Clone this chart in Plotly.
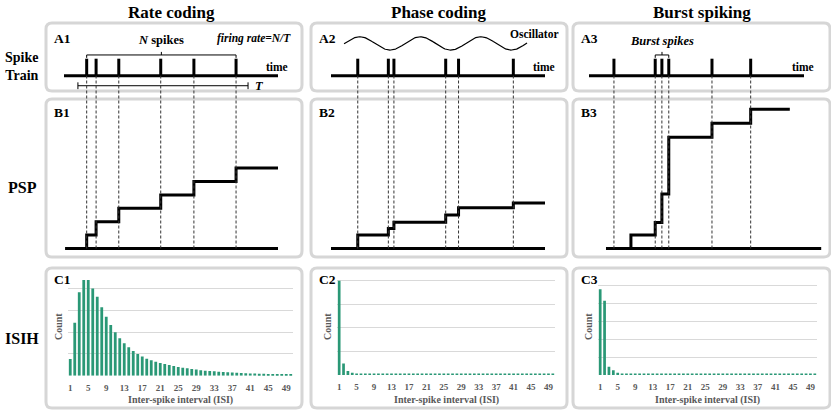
import numpy as np
import plotly.graph_objects as go

W, H = 831, 410

# ---------------- data ----------------
column_titles = ['Rate coding', 'Phase coding', 'Burst spiking']
row_titles = ['Spike<br>Train', 'PSP', 'ISIH']

# spike times, time axis 0-100 along each spike train
spikes_rate = [10.6, 15.0, 25.6, 45.2, 60.7, 80.4]
spikes_phase = [12.5, 26.8, 29.4, 53.6, 59.6, 85.2]
spikes_burst = [11.6, 30.8, 33.9, 37.1, 57.2, 75.2]

# PSP: onset of each step and level reached after it
psp_rate_t = [10.6, 15.0, 25.6, 45.2, 60.7, 80.4]
psp_rate_v = [1.0, 2.0, 3.0, 4.0, 5.0, 6.0]
psp_phase_t = [12.5, 26.8, 29.4, 53.6, 59.6, 85.2]
psp_phase_v = [1.0, 1.5, 1.95, 2.5, 3.05, 3.4]
psp_burst_t = [19.5, 30.8, 33.9, 37.1, 57.2, 75.2]
psp_burst_v = [1.0, 1.94, 4.06, 8.3, 9.35, 10.4]
psp_end = [100, 100, 93.4]
train_span = [(0, 100), (0, 100), (0, 100)]
psp_span = [(0.5, 100), (0, 100), (7.9, 108)]

# observation window T (rate coding)
T_window = (6.5, 86.0)

# oscillator (phase coding)
osc_span = (6.1, 91.6)
osc_period = 28.3
osc_peak = 13.45

# inter-spike interval histograms
isi = list(range(1, 51))
isi_ticks = list(range(1, 50, 4))
isih_rate = [0.77, 2.44, 3.84, 4.41, 4.41, 4.02, 3.64, 3.15, 2.72, 2.33,
             2.0, 1.72, 1.49, 1.31, 1.14, 1.0, 0.88, 0.78, 0.71, 0.645,
             0.58, 0.54, 0.49, 0.45, 0.40, 0.37, 0.34, 0.31, 0.28, 0.25,
             0.23, 0.215, 0.20, 0.185, 0.17, 0.155, 0.145, 0.14, 0.125, 0.115,
             0.105, 0.10, 0.09, 0.085, 0.077, 0.07, 0.065, 0.06, 0.055, 0.05]
isih_phase = [4.0, 0.49, 0.17, 0.10, 0.06, 0.045, 0.035, 0.03, 0.03, 0.03,
              0.03, 0.03, 0.03, 0.03, 0.03, 0.03, 0.03, 0.03, 0.03, 0.03,
              0.03, 0.03, 0.03, 0.03, 0.03, 0.03, 0.03, 0.03, 0.03, 0.03,
              0.03, 0.03, 0.03, 0.03, 0.03, 0.03, 0.03, 0.03, 0.03, 0.03,
              0.03, 0.03, 0.03, 0.03, 0.03, 0.03, 0.03, 0.03, 0.03, 0.03]
isih_burst = [4.81, 4.17, 0.47, 0.26, 0.13, 0.075, 0.056, 0.04, 0.04, 0.04,
              0.04, 0.04, 0.04, 0.04, 0.04, 0.04, 0.04, 0.04, 0.04, 0.04,
              0.04, 0.04, 0.04, 0.04, 0.04, 0.04, 0.04, 0.04, 0.04, 0.04,
              0.04, 0.04, 0.04, 0.04, 0.04, 0.04, 0.04, 0.04, 0.04, 0.04,
              0.04, 0.04, 0.04, 0.04, 0.04, 0.04, 0.04, 0.04, 0.04, 0.04]

# ---------------- layout helpers (pixel geometry) ----------------
FONT = 'Liberation Serif'
BOX_X = [(46, 302), (311, 567), (573, 830)]
BOX_Y = [(23, 91), (99, 257), (268, 408)]
BASE_X = [(64, 278), (331, 545), (589, 804)]   # px of t=0 and t=100
A_BASE, A_UNIT = 75.7, 17.0                    # spike baseline px, px per spike height
B_BASE, B_UNIT = 248.5, 13.4                   # PSP baseline px, px per unit


def X(p):
    return p / W


def Y(p):
    return 1 - p / H


def t_of(c, p):
    b0, b1 = BASE_X[c]
    return (p - b0) / (b1 - b0) * 100


def box_path(x0, y0, x1, y1, r=6):
    return (f"M{X(x0 + r)},{Y(y0)} L{X(x1 - r)},{Y(y0)} Q{X(x1)},{Y(y0)} {X(x1)},{Y(y0 + r)} "
            f"L{X(x1)},{Y(y1 - r)} Q{X(x1)},{Y(y1)} {X(x1 - r)},{Y(y1)} "
            f"L{X(x0 + r)},{Y(y1)} Q{X(x0)},{Y(y1)} {X(x0)},{Y(y1 - r)} "
            f"L{X(x0)},{Y(y0 + r)} Q{X(x0)},{Y(y0)} {X(x0 + r)},{Y(y0)} Z")


def note(s, size, x, y, xref='paper', yref='paper', color='black', **kw):
    d = dict(text=s, x=x, y=y, xref=xref, yref=yref, showarrow=False,
             xanchor='center', yanchor='middle',
             font=dict(family=FONT, size=size, color=color))
    d.update(kw)
    return d


fig = go.Figure()
shapes, annotations = [], []
layout = {}

# panel boxes
for bx in BOX_X:
    for by in BOX_Y:
        shapes.append(dict(type='path', path=box_path(bx[0], by[0], bx[1], by[1]),
                           xref='paper', yref='paper', layer='below',
                           line=dict(color='#d6d6d6', width=3), fillcolor='white'))

spikes_all = [spikes_rate, spikes_phase, spikes_burst]
psp_t_all = [psp_rate_t, psp_phase_t, psp_burst_t]
psp_v_all = [psp_rate_v, psp_phase_v, psp_burst_v]
BLK = dict(color='black', width=3)

for c in range(3):
    xa, ya, yb = f'x{c + 1}', f'y{c + 1}', f'y{c + 4}'
    bx0, bx1 = BOX_X[c]
    layout[f'xaxis{c + 1}'] = dict(domain=[X(bx0 + 2), X(bx1 - 2)],
                                   range=[t_of(c, bx0 + 2), t_of(c, bx1 - 2)],
                                   visible=False, anchor=ya)
    layout[f'yaxis{c + 1}'] = dict(domain=[Y(90), Y(24)],
                                   range=[(A_BASE - 90) / A_UNIT, (A_BASE - 24) / A_UNIT],
                                   visible=False, anchor=xa)
    layout[f'yaxis{c + 4}'] = dict(domain=[Y(256), Y(100)],
                                   range=[(B_BASE - 256) / B_UNIT, (B_BASE - 100) / B_UNIT],
                                   visible=False, anchor=xa)

    sp = spikes_all[c]
    # spike train
    fig.add_trace(go.Scatter(x=list(train_span[c]), y=[0, 0], mode='lines', line=BLK,
                             xaxis=xa, yaxis=ya, hoverinfo='skip'))
    sx, sy = [], []
    for t in sp:
        sx += [t, t, None]
        sy += [0, 1, None]
    fig.add_trace(go.Scatter(x=sx, y=sy, mode='lines', line=BLK, xaxis=xa, yaxis=ya,
                             hoverinfo='skip'))
    annotations.append(note('<b>time</b>', 11.5, 99.5, 0.52, xa, ya))

    # PSP
    fig.add_trace(go.Scatter(x=list(psp_span[c]), y=[0, 0], mode='lines', line=BLK,
                             xaxis=xa, yaxis=yb, hoverinfo='skip'))
    pt, pv = psp_t_all[c], psp_v_all[c]
    px_, py_ = [pt[0]], [0]
    for i, t in enumerate(pt):
        nxt = pt[i + 1] if i + 1 < len(pt) else psp_end[c]
        px_ += [t, nxt]
        py_ += [pv[i], pv[i]]
    fig.add_trace(go.Scatter(x=px_, y=py_, mode='lines', line=BLK, xaxis=xa, yaxis=yb,
                             hoverinfo='skip'))

    # dashed guides from spike train down to PSP baseline
    for t in sp:
        shapes.append(dict(type='line', xref=xa, yref='paper', x0=t, x1=t,
                           y0=Y(B_BASE), y1=Y(A_BASE), layer='above',
                           line=dict(color='#333333', width=1, dash='3px,2px')))

# rate coding annotations: N spikes bracket and T window
s = spikes_rate
mid = (s[0] + s[-1]) / 2
fig.add_trace(go.Scatter(x=[s[0], s[0], s[-1], s[-1], None, mid, mid],
                         y=[1.05, 1.22, 1.22, 1.05, None, 1.22, 1.4], mode='lines',
                         line=dict(color='black', width=1), xaxis='x1', yaxis='y1',
                         hoverinfo='skip'))
annotations.append(note('<b><i>N</i> spikes</b>', 12.5, mid, 2.1, 'x1', 'y1'))
annotations.append(note('<b><i>firing rate=N/T</i></b>', 11.5, X(293), Y(39), xanchor='right'))
t0, t1 = T_window
fig.add_trace(go.Scatter(x=[t0, t1, None, t0, t0, None, t1, t1],
                         y=[-0.59, -0.59, None, -0.79, -0.39, None, -0.79, -0.39],
                         mode='lines', line=dict(color='black', width=1),
                         xaxis='x1', yaxis='y1', hoverinfo='skip'))
annotations.append(note('<b><i>T</i></b>', 12.5, t1 + 2.5, -0.59, 'x1', 'y1', xanchor='left'))

# phase coding oscillator
ot = np.linspace(osc_span[0], osc_span[1], 240)
fig.add_trace(go.Scatter(x=ot, y=1.9 + 0.39 * np.cos(2 * np.pi * (ot - osc_peak) / osc_period),
                         mode='lines', line=dict(color='black', width=1.2),
                         xaxis='x2', yaxis='y2', hoverinfo='skip'))
annotations.append(note('<b>Oscillator</b>', 11.5, X(534), Y(34)))

# burst bracket
b = spikes_burst[1:4]
bm = (b[0] + b[-1]) / 2
fig.add_trace(go.Scatter(x=[b[0], b[0], b[-1], b[-1], None, bm, bm],
                         y=[1.05, 1.22, 1.22, 1.05, None, 1.22, 1.4], mode='lines',
                         line=dict(color='black', width=1), xaxis='x3', yaxis='y3',
                         hoverinfo='skip'))
annotations.append(note('<b><i>Burst spikes</i></b>', 12.5, bm, 2.06, 'x3', 'y3'))

# ISI histograms
C_X = [(68, 293), (337, 555), (598, 817)]
C_TOP = [278, 275.5, 282.4]
C_BASE = [375.7, 375, 375]
C_RANGE = [4.5, 4.22, 5.2]
isih_all = [isih_rate, isih_phase, isih_burst]
for c in range(3):
    xa, ya = f'x{c + 4}', f'y{c + 7}'
    layout[f'xaxis{c + 4}'] = dict(domain=[X(C_X[c][0]), X(C_X[c][1])], range=[0.5, 50.5],
                                   tickvals=isi_ticks, ticks='', showgrid=False,
                                   zeroline=False, showline=False, anchor=ya,
                                   ticklabelstandoff=5,
                                   tickfont=dict(family=FONT, size=9, color='#595959',
                                                 weight='bold'))
    layout[f'yaxis{c + 7}'] = dict(domain=[Y(C_BASE[c]), Y(C_TOP[c])], range=[0, C_RANGE[c]],
                                   dtick=1, showticklabels=False, gridcolor='#d9d9d9',
                                   gridwidth=1, zeroline=False, anchor=xa)
    fig.add_trace(go.Bar(x=isi, y=isih_all[c], marker=dict(color='#2a9876', line_width=0),
                         width=0.62, xaxis=xa, yaxis=ya, hoverinfo='skip'))
    cx = (C_X[c][0] + C_X[c][1]) / 2
    annotations.append(note('<b>Inter-spike interval (ISI)</b>', 10, X(cx), Y(399.5),
                            color='#595959'))
    annotations.append(note('<b>Count</b>', 10, X(C_X[c][0] - 10), Y(327),
                            color='#595959', textangle=-90))

# panel letters
for c, (bx0, _) in enumerate(BOX_X):
    for lab, yc in zip('ABC', [39, 112, 279]):
        annotations.append(note(f'<b>{lab}{c + 1}</b>', 13.5, X(bx0 + 6), Y(yc),
                                xanchor='left'))

# column and row titles
for title, xc in zip(column_titles, [171, 438, 702]):
    annotations.append(note(f'<b>{title}</b>', 17, X(xc), Y(12.5)))
for title, yc, fs in zip(row_titles, [66.5, 188, 338], [14, 16, 16]):
    annotations.append(note(f'<b>{title}</b>', fs, X(22), Y(yc)))

fig.update_layout(width=W, height=H, margin=dict(l=0, r=0, t=0, b=0),
                  paper_bgcolor='white', plot_bgcolor='rgba(0,0,0,0)',
                  showlegend=False, bargap=0.3, shapes=shapes, annotations=annotations,
                  **layout)

# drop the default page margin so the figure sits at the window origin
fig.write_html("out.html", config={'displayModeBar': False},
               post_script="document.body.style.margin='0';")
